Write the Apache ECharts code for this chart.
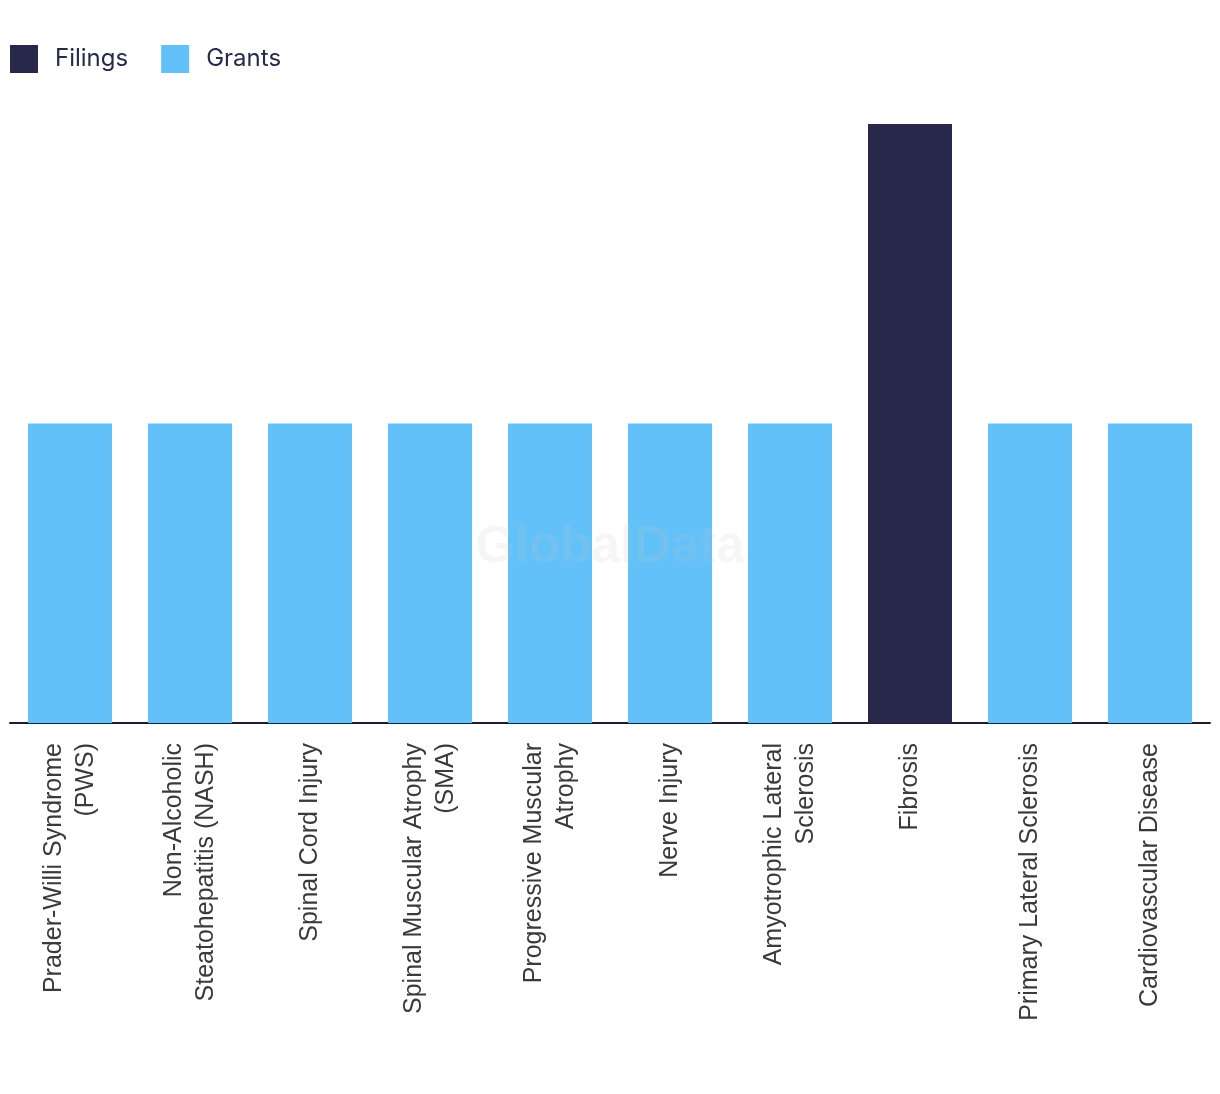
<!DOCTYPE html>
<html><head><meta charset="utf-8">
<script src="https://cdn.jsdelivr.net/npm/echarts@6/dist/echarts.min.js"></script>
<style>html,body{margin:0;padding:0;background:#fff}#c{width:1220px;height:1094px}</style>
</head><body><div id="c"></div>
<script>
const categories = ["Prader-Willi Syndrome\n(PWS)","Non-Alcoholic\nSteatohepatitis (NASH)","Spinal Cord Injury","Spinal Muscular Atrophy\n(SMA)","Progressive Muscular\nAtrophy","Nerve Injury","Amyotrophic Lateral\nSclerosis","Fibrosis","Primary Lateral Sclerosis","Cardiovascular Disease"];
const filings = [0,0,0,0,0,0,0,2,0,0];
const grants = [1,1,1,1,1,1,1,0,1,1];
const chart = echarts.init(document.getElementById('c'));
chart.setOption({
  animation:false,
  legend:{left:10,top:45,padding:0,itemWidth:28,itemHeight:28,itemGap:33,icon:'rect',
    textStyle:{fontFamily:'Inter',fontSize:24,color:'#262a4a',padding:[0,0,0,12]},
    data:['Filings','Grants']},
  grid:{left:10,right:10,top:124,bottom:371,containLabel:false},
  xAxis:{type:'category',data:categories,
    axisLine:{lineStyle:{color:'#1c1c30',width:2}},axisTick:{show:false},
    axisLabel:{rotate:90,interval:0,margin:20,fontFamily:'Liberation Sans',fontSize:25,color:'#3a3a3a',lineHeight:32}},
  yAxis:{type:'value',min:0,max:2,show:false,splitLine:{show:false}},
  graphic:[{type:'text',left:'center',top:522,z:100,style:{text:'GlobalData',font:'bold 51px Liberation Sans',fill:'rgba(194,194,194,0.15)'}}],
  series:[
    {name:'Filings',type:'bar',stack:'a',barWidth:'70%',data:filings,itemStyle:{color:'#27284a'}},
    {name:'Grants',type:'bar',stack:'a',barWidth:'70%',data:grants,itemStyle:{color:'#63c1f9'}}
  ]
});
</script></body></html>
